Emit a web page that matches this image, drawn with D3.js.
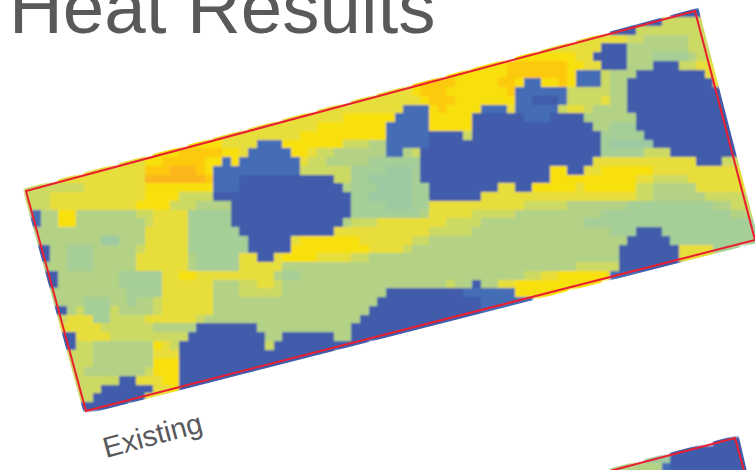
<!DOCTYPE html>
<html><head><meta charset="utf-8">
<script src="https://cdnjs.cloudflare.com/ajax/libs/d3/7.8.5/d3.min.js"></script>
<style>html,body{margin:0;padding:0;background:#fff;overflow:hidden}svg{display:block}</style>
</head><body><svg id="c" width="755" height="470"></svg>
<script>
const titleText = "Heat Results";
const labelText = "Existing";
const levels = ["0","1","2","3","4","5","6","7","8","9"];
const levelColors = ["#3f5bab","#456db5","#9dc9a3","#a6ce97","#b4d286","#ccd963","#e8de3a","#f8e00f","#fdc90f","#fbb61a"];
// one character per grid cell, grouped in fives; "." means no reading
const heatRows = [
"..... ..... ..... ..... ..... ..... ..... ..... ..... ..... ..... ..... ..... ..... ..... ..0.. .....",
"..... ..... ..... ..... ..... ..... ..... ..... ..... ..... ..... ..... ..... ..... ..005 5555. .....",
"..... ..... ..... ..... ..... ..... ..... ..... ..... ..... ..... ..... ..... ..... 05555 5555. .....",
"..... ..... ..... ..... ..... ..... ..... ..... ..... ..... ..... ..... ..... .6666 55444 44555 .....",
"..... ..... ..... ..... ..... ..... ..... ..... ..... ..... ..... ..... ..666 66000 44444 44555 .....",
"..... ..... ..... ..... ..... ..... ..... ..... ..... ..... ..... ....7 77776 60000 44433 33455 .....",
"..... ..... ..... ..... ..... ..... ..... ..... ..... ..... ....7 78888 88877 66000 44400 05566 .....",
"..... ..... ..... ..... ..... ..... ..... ..... ..... ..... .7777 78888 88871 11544 40000 00006 .....",
"..... ..... ..... ..... ..... ..... ..... ..... ..... ..888 77777 88711 77871 11544 00000 00000 6....",
"..... ..... ..... ..... ..... ..... ..... ..... ...66 78887 77777 78111 11155 55544 00000 00000 0....",
"..... ..... ..... ..... ..... ..... ..... ..... 66666 67888 77777 77110 00155 55644 00000 00000 0....",
"..... ..... ..... ..... ..... ..... ..... .6666 66661 11787 77711 16111 11566 54444 00000 00000 0....",
"..... ..... ..... ..... ..... ..... ..666 66777 77711 11777 77000 00011 10000 44444 40000 00000 00...",
"..... ..... ..... ..... ..... ...66 66667 77777 77111 11777 77000 00000 00000 04433 30000 00000 00...",
"..... ..... ..... ..... ....6 66666 66777 77777 77111 11000 05000 00000 00000 00333 33000 00000 00...",
"..... ..... ..... ..... .7766 66111 77777 77555 44111 11000 00000 00000 00000 00322 22200 00000 00...",
"..... ..... ..... ..788 88877 61111 17765 54444 44114 50000 00000 00000 00000 00333 33555 00000 000..",
"..... ..... ...67 78888 87717 11111 11655 44444 33333 30000 00000 00000 00000 06666 66666 66600 055..",
"..... ....6 66668 88999 87111 11111 11555 55533 33222 30000 00000 00000 07700 66777 77766 66666 666..",
"..... .6666 66669 99999 98111 00000 00000 05533 22222 30000 00000 00000 07777 77777 76655 55666 666..",
"..555 55666 66667 77777 77111 00000 00000 00433 32222 33000 00000 66007 77776 77777 75544 44466 6666.",
"55566 66666 66667 77755 55000 00000 00000 00033 22222 33000 00066 66666 66666 66666 65544 44445 5555.",
"55566 66666 66677 77555 44440 00000 00000 00033 33222 33666 66666 66655 55544 44444 33333 33333 4455.",
"41447 74444 44455 66663 33330 00000 00000 00033 33333 34666 66555 55444 44444 44333 33333 33333 33445",
".1447 74444 44445 66663 33330 00000 00000 00455 56666 66665 55544 44444 44444 33333 33333 33333 33333",
".4444 44444 44446 66663 33333 00000 00000 06666 66666 66555 55444 44444 44444 44433 30003 33333 33333",
".4444 44442 24446 66663 33333 30000 06777 77776 66666 55444 44444 44444 44444 44444 00000 33333 33333",
"..044 33344 44456 66663 33333 30000 07777 77777 66665 44444 44444 44444 44444 44440 00000 06666 3....",
"..044 33344 44466 66664 33333 66006 77776 66655 44444 44444 44444 44444 44444 44440 00000 0666. .....",
"..444 33344 44466 66664 33333 66666 44444 44444 44444 44444 44444 44444 44445 55550 00000 ..... .....",
"...04 44444 43333 36677 66666 66664 33444 44444 44444 44444 44444 44455 66777 77711 1.... ..... .....",
"...04 44444 43333 36666 66444 55665 44444 44444 44444 44445 44044 66777 77777 ..... ..... ..... .....",
"...44 44444 44333 36666 66444 55555 44444 44444 44000 00000 01111 11777 7.... ..... ..... ..... .....",
"...44 44333 44344 56666 66444 44444 44444 44444 40000 00000 00011 11... ..... ..... ..... ..... .....",
"....0 45333 54444 56666 66444 44444 44444 44444 00000 00000 00011 ..... ..... ..... ..... ..... .....",
"....5 66633 55556 66666 54444 44444 44444 44440 00000 00000 0.... ..... ..... ..... ..... ..... .....",
"....6 66665 55555 44444 00000 00444 44444 44400 00000 00... ..... ..... ..... ..... ..... ..... .....",
"..... 06666 55555 55550 00000 00044 00000 04400 000.. ..... ..... ..... ..... ..... ..... ..... .....",
"..... 05544 44444 76500 00000 00050 00000 000.. ..... ..... ..... ..... ..... ..... ..... ..... .....",
"..... 55544 44444 66600 00000 00000 0000. ..... ..... ..... ..... ..... ..... ..... ..... ..... .....",
"..... 55544 44444 77700 00000 00000 0.... ..... ..... ..... ..... ..... ..... ..... ..... ..... .....",
"..... .5444 44445 77700 00000 000.. ..... ..... ..... ..... ..... ..... ..... ..... ..... ..... .....",
"..... .5555 50066 67700 000.. ..... ..... ..... ..... ..... ..... ..... ..... ..... ..... ..... .....",
"..... .5550 00000 66700 ..... ..... ..... ..... ..... ..... ..... ..... ..... ..... ..... ..... .....",
"..... ..500 00006 ..... ..... ..... ..... ..... ..... ..... ..... ..... ..... ..... ..... ..... .....",
"..... ..000 ..... ..... ..... ..... ..... ..... ..... ..... ..... ..... ..... ..... ..... ..... .....",
"..... ..... ..... ..... ..... ..... ..... ..... ..... ..... ..... ..... ..... ..... ..... ..... .....",
"..... ..... ..... ..... ..... ..... ..... ..... ..... ..... ..... ..... ..... ..... ..... ..... .....",
"..... ..... ..... ..... ..... ..... ..... ..... ..... ..... ..... ..... ..... ..... ..... ..... .....",
"..... ..... ..... ..... ..... ..... ..... ..... ..... ..... ..... ..... ..... ..... ..... ..... ..0..",
"..... ..... ..... ..... ..... ..... ..... ..... ..... ..... ..... ..... ..... ..... ..... ..000 000..",
"..... ..... ..... ..... ..... ..... ..... ..... ..... ..... ..... ..... ..... ..... ....2 00000 000..",
"..... ..... ..... ..... ..... ..... ..... ..... ..... ..... ..... ..... ..... ..... 44441 00000 0000."
];
// frame corners in grid units (column, row)
const frameA = [[0.25,20.88],[77.86,0.31],[84.82,26.48],[7.21,46.02]];
const frameB = [[66.0,53.4],[82.5,49.1],[83.7,53.4]];
// slightly wider outlines that trim the map to its frame
const trimA = [[-0.15,20.65],[78.25,-0.05],[85.3,26.75],[7.0,46.45]];
const trimB = [[66.0,53.1],[82.9,48.75],[84.0,53.4]];

const cellW = 8.62, cellH = 8.75, gridX = 23.84, gridY = 8.3;
const edgeReach = 2; // each row's edge reading reaches under the trim outline
const grid = heatRows.map(r => r.replace(/ /g, ""));
const nCols = 85, nRows = grid.length;
const x = d3.scaleLinear().domain([0, nCols]).range([gridX, gridX + nCols * cellW]);
const y = d3.scaleLinear().domain([0, nRows]).range([gridY, gridY + nRows * cellH]);
const color = d3.scaleOrdinal().domain(levels).range(levelColors);
const line = d3.line().x(d => x(d[0])).y(d => y(d[1]));

const svg = d3.select("#c");
const defs = svg.append("defs");
defs.append("filter").attr("id","soft").attr("x","-2%").attr("y","-2%").attr("width","104%").attr("height","104%")
  .append("feGaussianBlur").attr("stdDeviation",0.8);
defs.append("clipPath").attr("id","trim").append("path").attr("d", line(trimA) + "Z" + line(trimB) + "Z");

const cells = [];
grid.forEach((row, r) => {
  const chars = row.split("");
  const first = chars.findIndex(ch => ch !== ".");
  if (first < 0) return;
  const last = chars.length - 1 - [...chars].reverse().findIndex(ch => ch !== ".");
  for (let k = 1; k <= edgeReach; k++) {
    if (first - k >= 0) cells.push({r, c: first - k, v: chars[first]});
    if (last + k < nCols) cells.push({r, c: last + k, v: chars[last]});
  }
  chars.forEach((ch, c) => { if (ch !== ".") cells.push({r, c, v: ch}); });
});

svg.append("g").attr("clip-path","url(#trim)").append("g").attr("filter","url(#soft)")
  .selectAll("rect").data(cells).join("rect")
  .attr("shape-rendering","crispEdges")
  .attr("x", d => x(d.c)).attr("y", d => y(d.r))
  .attr("width", x(1) - x(0) + 0.6).attr("height", y(1) - y(0) + 0.6)
  .attr("fill", d => color(d.v));

svg.append("path").attr("d", line(frameA) + "Z").attr("fill","none").attr("stroke","#ea1f2f").attr("stroke-width",2);
svg.append("path").attr("d", line(frameB)).attr("fill","none").attr("stroke","#ea1f2f").attr("stroke-width",2);

svg.append("text").attr("x", 9).attr("y", 33)
  .attr("font-family","'Liberation Sans',Arial,sans-serif").attr("font-size",74.5).attr("fill","#58595b").text(titleText);
svg.append("text").attr("transform","translate(106,458) rotate(-15)")
  .attr("font-family","'Liberation Sans',Arial,sans-serif").attr("font-size",29).attr("fill","#58595b").text(labelText);
</script></body></html>
